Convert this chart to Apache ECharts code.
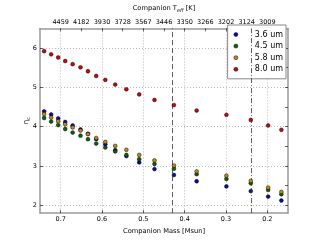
<!DOCTYPE html>
<html><head><meta charset="utf-8">
<script src="https://cdn.jsdelivr.net/npm/echarts@6/dist/echarts.min.js"></script>
<style>html,body{margin:0;padding:0;background:#fff}#c{width:320px;height:240px}</style>
</head><body><div id="c"></div>
<script>
const masses = [0.740,0.723,0.706,0.689,0.671,0.652,0.634,0.614,0.592,0.568,0.541,0.510,0.473,0.426,0.371,0.299,0.240,0.198,0.166];
const eta36 = [4.39,4.31,4.21,4.12,4.03,3.93,3.82,3.68,3.55,3.40,3.25,3.09,2.92,2.77,2.61,2.48,2.36,2.22,2.12];
const eta45 = [4.22,4.13,4.04,3.94,3.85,3.77,3.68,3.57,3.47,3.37,3.28,3.17,3.05,2.93,2.79,2.67,2.56,2.39,2.28];
const eta58 = [4.32,4.23,4.14,4.06,3.98,3.90,3.81,3.71,3.61,3.51,3.41,3.28,3.14,3.01,2.86,2.75,2.62,2.45,2.34];
const eta80 = [5.92,5.84,5.76,5.67,5.59,5.51,5.41,5.29,5.19,5.07,4.95,4.82,4.68,4.55,4.41,4.30,4.17,4.03,3.92];
const seriesNames = ['3.6 um','4.5 um','5.8 um','8.0 um'];
const massTicks = [0.7,0.6,0.5,0.4,0.3,0.2];
const teffTickMasses = [0.7,0.65,0.6,0.55,0.5,0.45,0.4,0.35,0.3,0.25,0.2];
const teffLabels = ['4459','4182','3930','3728','3567','3446','3350','3266','3202','3124','3009'];
const yTicks = [2,3,4,5,6];
const yMinorTicks = [2,2.5,3,3.5,4,4.5,5,5.5,6];
const refMassDashed = [0.432];
const refMassDashDot = [0.241];

const colors = ['#0a0ab4','#0a640a','#c88a14','#c80a0a'];
const font = 'DejaVu Sans';
const frame = {show:true, lineStyle:{color:'#999', width:1.5}};

const chart = echarts.init(document.getElementById('c'), null, {renderer:'canvas'});
const allVals = [eta36, eta45, eta58, eta80];
const series = allVals.map((vals, i) => ({
  name: seriesNames[i], type:'scatter', xAxisIndex:0, yAxisIndex:0,
  data: masses.map((m, j) => [m, vals[j]]),
  symbol:'circle', symbolSize:3.8,
  itemStyle:{color:colors[i], borderColor:'#000', borderWidth:0.5, opacity:1},
  z: 3 + i
}));
series[0].markLine = {
  silent:true, symbol:'none', label:{show:false},
  data: refMassDashed.map(v => ({xAxis:v, lineStyle:{color:'#333', width:0.8, type:[5,3]}}))
    .concat(refMassDashDot.map(v => ({xAxis:v, lineStyle:{color:'#333', width:0.8, type:[5,2,1,2]}})))
};

chart.setOption({
  animation:false,
  textStyle:{fontFamily:font},
  grid:{left:40, right:32, top:24, bottom:24, containLabel:false},
  legend:{
    orient:'vertical', right:34, top:25,
    backgroundColor:'#fff', borderColor:'#888', borderWidth:1,
    padding:[5,3,5,6], itemWidth:4, itemHeight:4, itemGap:2.6,
    icon:'circle',
    itemStyle:{borderColor:'#000', borderWidth:0.5},
    textStyle:{fontFamily:font, fontSize:8, color:'#000', padding:[0,0,0,12], lineHeight:9},
    data: seriesNames
  },
  xAxis:[{
    type:'value', position:'bottom', min:0.15, max:0.75, inverse:true,
    name:'Companion Mass [Msun]', nameLocation:'middle', nameGap:12,
    nameTextStyle:{fontFamily:font, fontSize:6.7, color:'#000'},
    axisLine:frame,
    axisTick:{show:true, inside:true, length:3, customValues:massTicks, lineStyle:{color:'#000', width:0.6}},
    axisLabel:{customValues:massTicks, fontSize:6.5, color:'#000', margin:3, formatter:v=>v.toFixed(1)},
    splitLine:{show:true, lineStyle:{color:'#aaa', type:[1,2], width:0.8}}
  },{
    type:'value', position:'top', min:0.15, max:0.75, inverse:true,
    name:'Companion T{s|eff} [K]', nameLocation:'middle', nameGap:13,
    nameTextStyle:{fontFamily:font, fontSize:6.7, color:'#000',
      rich:{s:{fontFamily:font, fontSize:5, fontStyle:'italic', color:'#000', padding:[5,0,0,0]}}},
    axisLine:frame,
    axisTick:{show:true, inside:true, length:3, customValues:teffTickMasses, lineStyle:{color:'#000', width:0.6}},
    axisLabel:{customValues:teffTickMasses, fontSize:6.5, color:'#000', margin:3,
      formatter:v=>{const k=teffTickMasses.findIndex(t=>Math.abs(t-v)<1e-6); return k>=0?teffLabels[k]:'';}},
    splitLine:{show:false}
  }],
  yAxis:[{
    type:'value', position:'left', min:1.8, max:6.5,
    name:'η{s|c}', nameLocation:'middle', nameGap:9, nameMoveOverlap:false,
    nameTextStyle:{fontFamily:font, fontSize:7, color:'#000',
      rich:{s:{fontFamily:font, fontSize:5, color:'#000', padding:[4,0,0,0]}}},
    axisLine:frame,
    axisTick:{show:true, inside:true, length:3, customValues:yTicks, lineStyle:{color:'#000', width:0.6}},
    axisLabel:{customValues:yTicks, fontSize:6.5, color:'#000', margin:3},
    splitLine:{show:true, lineStyle:{color:'#aaa', type:[1,2], width:0.8}}
  },{
    type:'value', position:'right', min:1.8, max:6.5,
    axisLine:frame,
    axisTick:{show:true, inside:true, length:3, customValues:yMinorTicks, lineStyle:{color:'#000', width:0.6}},
    axisLabel:{show:false}, splitLine:{show:false}
  }],
  series: series
});
</script></body></html>
